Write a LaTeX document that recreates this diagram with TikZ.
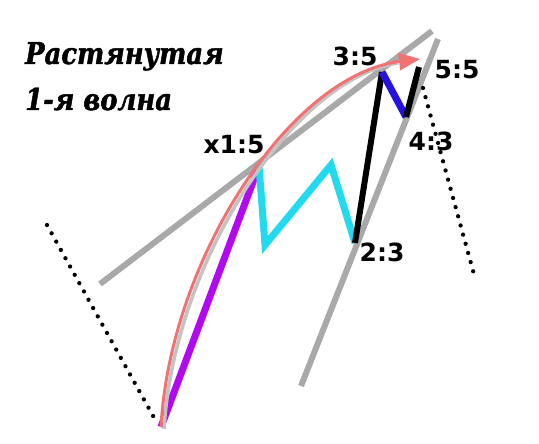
\documentclass[tikz,border=0pt]{standalone}
\usepackage{fontspec}
\setmainfont{DejaVu Sans}
\newfontfamily\titlefont[FakeStretch=0.86,FakeBold=1.5]{DejaVu Serif}
\usetikzlibrary{arrows.meta}
\definecolor{trendgray}{HTML}{A9A9A9}
\definecolor{wpurple}{HTML}{B20AF0}
\definecolor{wcyan}{HTML}{22DAF0}
\definecolor{wblue}{HTML}{2612E0}
\definecolor{wred}{HTML}{F07272}
\tikzset{
  trend/.style={draw=trendgray, line width=6pt},
  wave/.style={line width=7pt, line join=miter, line cap=butt},
  dotline/.style={draw=black, line width=4.3pt, line cap=round, dash pattern=on 0pt off 9.5pt},
  lbl/.style={font=\fontsize{25}{25}\selectfont\bfseries, inner sep=0pt},
  ttl/.style={font=\titlefont\fontsize{30}{30}\selectfont\bfseries\itshape, inner sep=0pt, anchor=base west}
}
\begin{document}
\begin{tikzpicture}[x=1pt,y=-1pt]
\useasboundingbox (0,0) rectangle (539,444);
% points
\coordinate (p0) at (161,427);
\coordinate (p1) at (259,166);
\coordinate (p2a) at (265,245);
\coordinate (p2b) at (331,165);
\coordinate (p2) at (355,243);
\coordinate (p3) at (382,72);
\coordinate (p4) at (406,117);
\coordinate (p5) at (419,67);
\coordinate (t1a) at (100,284);
\coordinate (t1b) at (432,31);
\coordinate (t2a) at (301,386);
\coordinate (t2b) at (438,39);
\coordinate (d1a) at (47,225);
\coordinate (d1b) at (157,423);
\coordinate (d2a) at (423,88);
\coordinate (d2b) at (475,278);
\coordinate (ae) at (420,59);
% title
\node[ttl] (title1) at (25,64) {Растянутая};
\node[ttl] (title2) at (25,110) {1-я волна};
% trend lines
\draw[trend] (t1a) -- (t1b);
\draw[trend] (t2a) -- (t2b);
% dotted lines
\draw[dotline] (d1a) -- (d1b);
\draw[dotline] (d2a) -- (d2b);
% waves
\draw[wave, draw=wpurple] (p0) -- (p1);
\draw[wave, draw=wcyan] (p1) -- (p2a) -- (p2b) -- (p2);
\draw[wave, draw=black, line width=6pt] (p2) -- (p3);
\draw[wave, draw=wblue] (p3) -- (p4);
\draw[wave, draw=black, line width=6pt] (p4) -- (p5);
% arc shadow and arc
\draw[draw=trendgray!70, line width=3.5pt] ([shift={(3,2)}]p0) .. controls (174,262) and (293,79) .. ([shift={(-22,4)}]ae);
\draw[draw=wred, line width=3pt, -{Triangle[length=21pt,width=17pt]}] (p0) .. controls (170,260) and (290,75) .. (ae);
% labels
\node[lbl] (l1) at (234,145) {x1:5};
\node[lbl] (l3) at (355,56) {3:5};
\node[lbl] (l5) at (457,70) {5:5};
\node[lbl] (l4) at (431,141) {4:3};
\node[lbl] (l2) at (382,252) {2:3};
\end{tikzpicture}
\end{document}
